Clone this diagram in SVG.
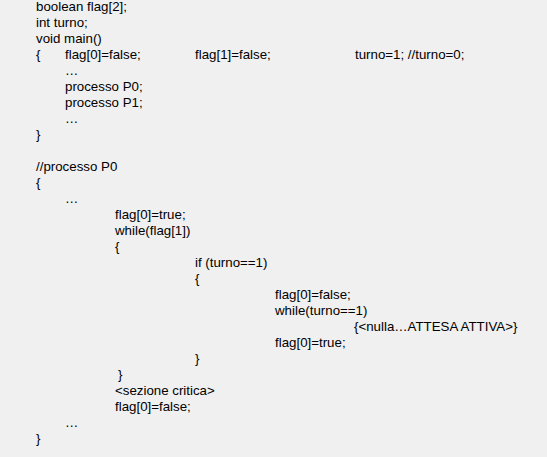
<svg xmlns="http://www.w3.org/2000/svg" width="547" height="457" viewBox="0 0 547 457">
<style>
text{font-family:"Liberation Sans",Arial,Helvetica,sans-serif;font-size:13.3px;fill:#000}
</style>
<rect x="0" y="0" width="547" height="457" fill="#f0f0f0"/>
<g id="code">
<text x="36" y="11">boolean flag[2];</text>
<text x="36" y="27">int turno;</text>
<text x="36" y="43">void main()</text>
<text x="36" y="59">{</text>
<text x="65" y="59">flag[0]=false;</text>
<text x="195" y="59">flag[1]=false;</text>
<text x="355" y="59">turno=1; //turno=0;</text>
<text x="65" y="75">…</text>
<text x="65" y="91">processo P0;</text>
<text x="65" y="107">processo P1;</text>
<text x="65" y="123">…</text>
<text x="36" y="139">}</text>
<text x="36" y="171">//processo P0</text>
<text x="36" y="187">{</text>
<text x="65" y="203">…</text>
<text x="115" y="219">flag[0]=true;</text>
<text x="115" y="235">while(flag[1])</text>
<text x="115" y="251">{</text>
<text x="195" y="267">if (turno==1)</text>
<text x="195" y="283">{</text>
<text x="275" y="299">flag[0]=false;</text>
<text x="275" y="315">while(turno==1)</text>
<text x="354" y="331">{&lt;nulla…ATTESA ATTIVA&gt;}</text>
<text x="275" y="347">flag[0]=true;</text>
<text x="195" y="363">}</text>
<text x="118" y="379">}</text>
<text x="115" y="395">&lt;sezione critica&gt;</text>
<text x="115" y="411">flag[0]=false;</text>
<text x="65" y="427">…</text>
<text x="36" y="443">}</text>
</g>
</svg>
